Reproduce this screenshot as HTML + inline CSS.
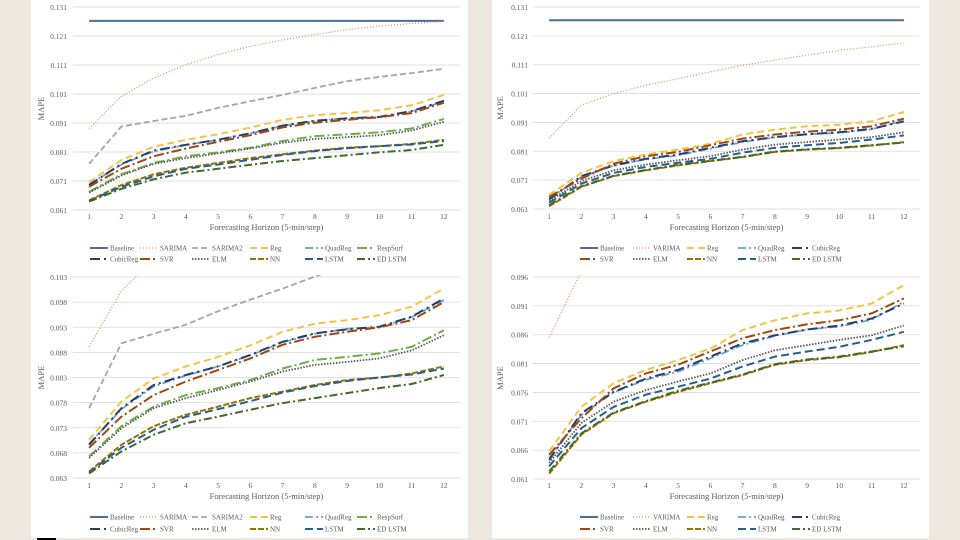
<!DOCTYPE html>
<html><head><meta charset="utf-8"><style>
html,body{margin:0;padding:0;width:960px;height:540px;overflow:hidden;background:#ede9e1;}
svg{position:absolute;left:0;top:0;}
text{font-family:"Liberation Serif",serif;fill:#595959;}
</style></head><body>
<svg id="s" width="960" height="540">
<rect x="31" y="0" width="437" height="538" fill="#fff"/>
<rect x="492" y="0" width="437" height="538" fill="#fff"/>
<rect x="37" y="538" width="19" height="2" fill="#000"/>
</svg>
<script>
const categories=[1,2,3,4,5,6,7,8,9,10,11,12];
// Left charts (SARIMA family)
const L_Baseline=[.1262,.1262,.1262,.1262,.1262,.1262,.1262,.1262,.1262,.1262,.1262,.1262];
const L_SARIMA=[.0891,.1002,.1065,.1111,.1146,.1174,.1197,.1215,.1232,.1244,.1253,.1261];
const L_SARIMA2=[.0769,.0898,.0917,.0935,.0962,.0985,.1007,.1031,.1054,.1069,.1082,.1097];
const L_Reg=[.0706,.0782,.0828,.0852,.0871,.0894,.0921,.0937,.0944,.0954,.0971,.1007];
const L_QuadReg=[.0698,.0767,.0812,.0834,.0852,.0874,.0900,.0917,.0927,.0930,.0950,.0984];
const L_RespSurf=[.0673,.0733,.0772,.0795,.0809,.0825,.0848,.0865,.0871,.0878,.0891,.0924];
const L_CubicReg=[.0696,.0769,.0815,.0835,.0852,.0875,.0901,.0918,.0926,.0931,.0951,.0987];
const L_SVR=[.0690,.0752,.0795,.0822,.0845,.0868,.0895,.0911,.0921,.0930,.0944,.0980];
const L_ELM=[.0670,.0729,.0769,.0789,.0805,.0822,.0842,.0855,.0861,.0868,.0884,.0914];
const L_NN=[.0643,.0696,.0733,.0756,.0772,.0789,.0802,.0815,.0825,.0830,.0838,.0852];
const L_LSTM=[.0641,.0690,.0726,.0752,.0767,.0783,.0800,.0813,.0823,.0830,.0836,.0848];
const L_EDLSTM=[.0639,.0683,.0716,.0739,.0752,.0766,.0779,.0789,.0799,.0809,.0817,.0835];
// Right charts (VARIMA family)
const R_Baseline=[.1264,.1264,.1264,.1264,.1264,.1264,.1264,.1264,.1264,.1264,.1264,.1264];
const R_VARIMA=[.0855,.0970,.1010,.1039,.1062,.1085,.1108,.1126,.1143,.1160,.1172,.1186];
const R_Reg=[.0658,.0735,.0776,.0799,.0816,.0836,.0868,.0885,.0897,.0902,.0914,.0946];
const R_QuadReg=[.0646,.0721,.0760,.0782,.0796,.0819,.0842,.0858,.0869,.0874,.0886,.0917];
const R_CubicReg=[.0643,.0724,.0761,.0784,.0799,.0822,.0845,.0859,.0869,.0876,.0888,.0914];
const R_SVR=[.0652,.0715,.0767,.0793,.0808,.0831,.0854,.0868,.0878,.0885,.0897,.0923];
const R_ELM=[.0638,.0707,.0744,.0764,.0779,.0793,.0816,.0833,.0842,.0851,.0859,.0876];
const R_NN=[.0619,.0687,.0724,.0744,.0761,.0776,.0790,.0808,.0816,.0821,.0830,.0842];
const R_LSTM=[.0632,.0698,.0735,.0756,.0770,.0784,.0805,.0822,.0831,.0839,.0851,.0865];
const R_EDLSTM=[.0623,.0689,.0725,.0745,.0763,.0777,.0791,.0809,.0817,.0822,.0831,.0840];
const ticksTop=[0.061,0.071,0.081,0.091,0.101,0.111,0.121,0.131];
const ticksBL=[0.063,0.068,0.073,0.078,0.083,0.088,0.093,0.098,0.103];
const ticksBR=[0.061,0.066,0.071,0.076,0.081,0.086,0.091,0.096];

const ST={
 Baseline:['#4a6d99','none',2],SARIMA:['#e0915a','1,2',1.3],VARIMA:['#e0915a','1,2',1.3],
 SARIMA2:['#a5a5a5','6,3',1.8],Reg:['#f5c342','7,4',2],QuadReg:['#6a9fd0','8,3,2,3',1.8],
 RespSurf:['#70ad47','10,3,2,3',2],CubicReg:['#263f6a','10,4,2,4',2],SVR:['#9e480e','10,3,2,3',2],
 ELM:['#555','1.5,1.5',1.8],NN:['#997300','6,2',2],LSTM:['#255e91','8,4',2],EDLSTM:['#43682b','8,3,2,3',2]};
const leftSeries=[['Baseline','Baseline',L_Baseline],['SARIMA','SARIMA',L_SARIMA],['SARIMA2','SARIMA2',L_SARIMA2],['Reg','Reg',L_Reg],['QuadReg','QuadReg',L_QuadReg],['RespSurf','RespSurf',L_RespSurf],['CubicReg','CubicReg',L_CubicReg],['SVR','SVR',L_SVR],['ELM','ELM',L_ELM],['NN','NN',L_NN],['LSTM','LSTM',L_LSTM],['EDLSTM','ED LSTM',L_EDLSTM]];
const rightSeries=[['Baseline','Baseline',R_Baseline],['VARIMA','VARIMA',R_VARIMA],['Reg','Reg',R_Reg],['QuadReg','QuadReg',R_QuadReg],['CubicReg','CubicReg',R_CubicReg],['SVR','SVR',R_SVR],['ELM','ELM',R_ELM],['NN','NN',R_NN],['LSTM','LSTM',R_LSTM],['EDLSTM','ED LSTM',R_EDLSTM]];

const NS='http://www.w3.org/2000/svg';
const svg=document.getElementById('s');
function mk(tag,attrs,parent){const e=document.createElementNS(NS,tag);for(const k in attrs)e.setAttribute(k,attrs[k]);(parent||svg).appendChild(e);return e;}

function chart(id,x0,x1,yTop,yBot,ticks,series,legendCols,legendY,titleY,tickY,yLabX,mapeX,sw){
 const g=mk('g',{});
 
 
 const vmin=ticks[0],vmax=ticks[ticks.length-1];
 const ys=v=>yBot-(v-vmin)/(vmax-vmin)*(yBot-yTop);
 const band=(x1-x0)/categories.length;
 const xs=i=>x0+band*(i+0.5);
 ticks.forEach(t=>{
  const l=mk('line',{x1:x0,x2:x1,y1:ys(t),y2:ys(t),stroke:'#d9d9d9','stroke-width':0.8},g);
  
  
  const tx=mk('text',{x:yLabX,y:ys(t)+3,'text-anchor':'end','font-size':7.5},g);
  tx.textContent=t.toFixed(3);
  
  
 });
 categories.forEach((c,i)=>{
  const tx=mk('text',{x:xs(i),y:tickY,'text-anchor':'middle','font-size':7.5},g);
  tx.textContent=c;
  
  
 });
 const xt=mk('text',{x:(x0+x1)/2,y:titleY,'text-anchor':'middle','font-size':8.5},g);
 xt.textContent='Forecasting Horizon (5-min/step)';
 
 
 const cy=(yTop+yBot)/2;
 const yt=mk('text',{x:mapeX,y:cy,'text-anchor':'middle','font-size':8.5,transform:`rotate(-90 ${mapeX} ${cy})`},g);
 yt.textContent='MAPE';
 
 
 const cp=mk('clipPath',{id:id+'-clip'},g);
 mk('rect',{x:x0,y:yTop-2,width:x1-x0,height:yBot-yTop+4},cp);
 const pg=mk('g',{'clip-path':`url(#${id}-clip)`},g);
 series.forEach(([key,label,vals])=>{
  const s=ST[key];
  const p=mk('polyline',{points:vals.map((v,i)=>xs(i).toFixed(1)+','+ys(v).toFixed(1)).join(' '),fill:'none',stroke:s[0],'stroke-width':s[2],'stroke-dasharray':s[1]},pg);
  
  
 });
 const per=legendCols.length;
 series.forEach(([key,label],i)=>{
  const s=ST[key];
  const lx=legendCols[i%per],ly=legendY[Math.floor(i/per)];
  const e=mk('g',{},g);
  
  
  mk('line',{x1:lx,x2:lx+sw,y1:ly,y2:ly,stroke:s[0],'stroke-width':s[2],'stroke-dasharray':s[1]},e);
  const t=mk('text',{x:lx+sw+2,y:ly+2.5,'font-size':7},e);
  t.textContent=label;
 });
}
chart('chart-top-left',73,460,7,210,ticksTop,leftSeries,[90,140,192,250,305,357],[248,259],230,219,67,44,18);
chart('chart-bottom-left',73,460,277,478,ticksBL,leftSeries,[90,140,192,250,305,357],[517,529],499,488,67,44,18);
chart('chart-top-right',533,920,7,209,ticksTop,rightSeries,[580,633,687,738,792],[248,259],230,219,528,503,18);
chart('chart-bottom-right',533,920,277,479,ticksBR,rightSeries,[580,633,687,738,792],[517,529],499,488,528,503,18);
</script>
</body></html>
